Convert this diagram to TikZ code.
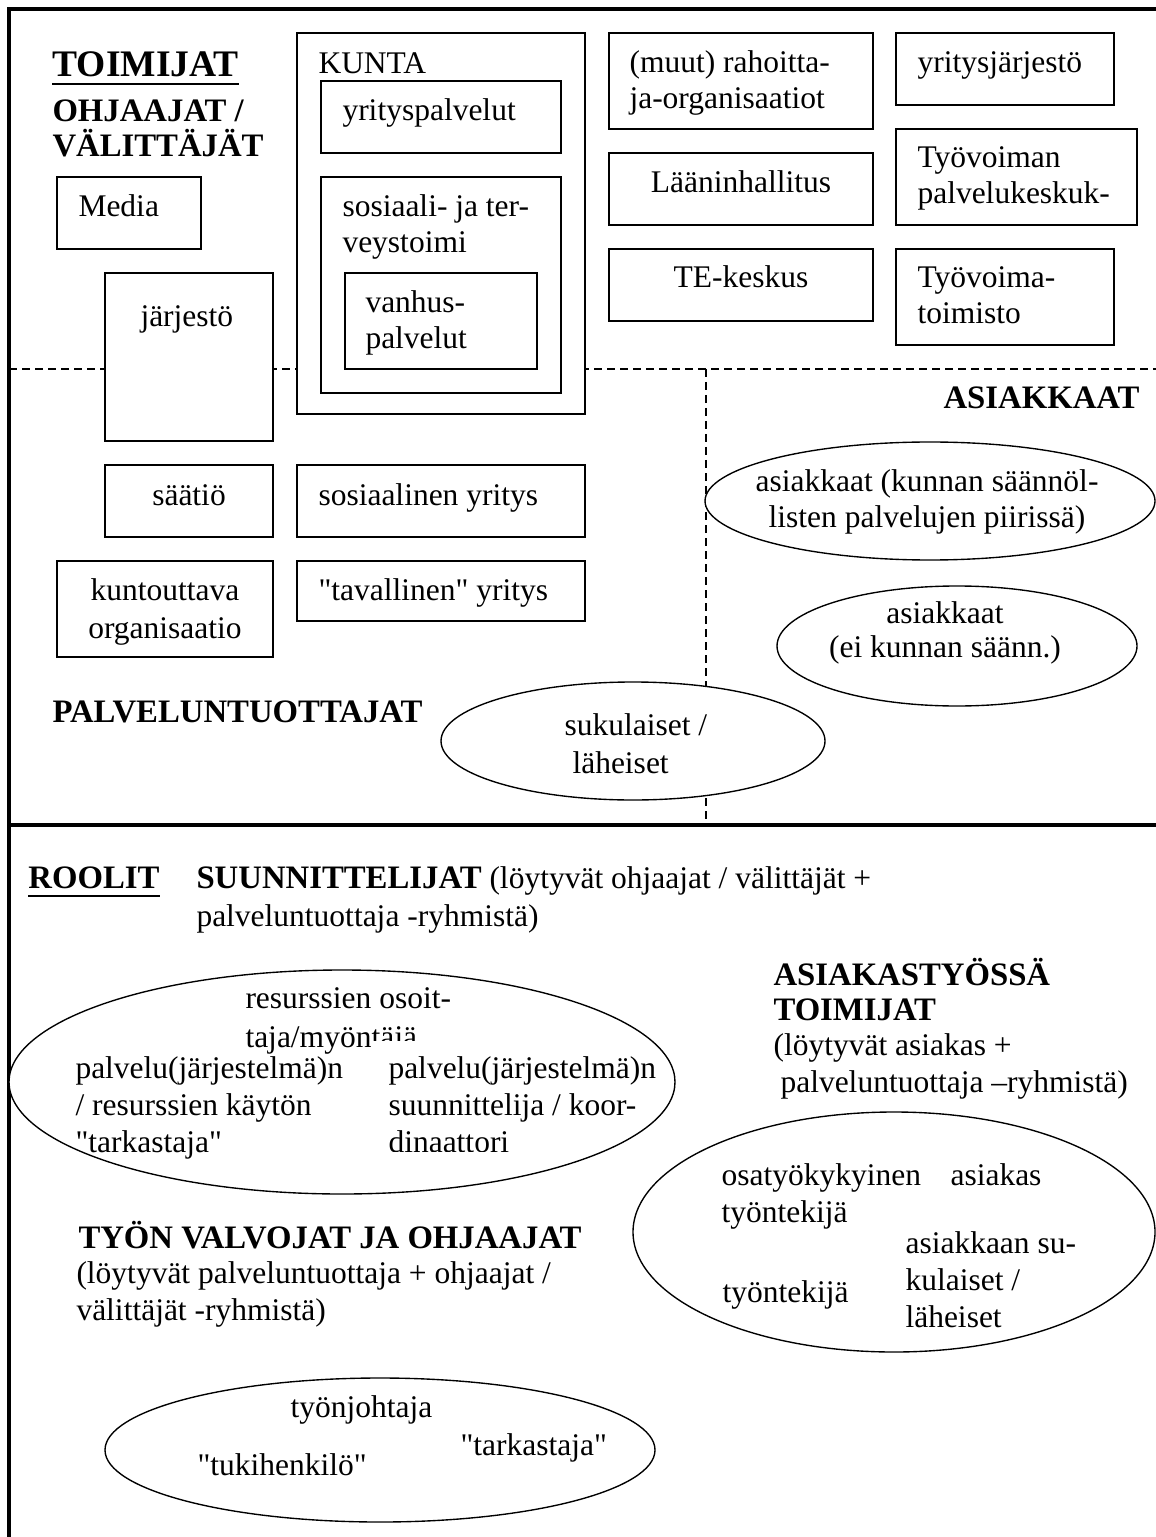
\documentclass[tikz,border=0pt]{standalone}
\usepackage{fontspec}
\setmainfont{Liberation Serif}[Ligatures=TeXOff]
\usetikzlibrary{calc}
\begin{document}
\begin{tikzpicture}[x=0.4pt,y=-0.4pt,
  frame/.style={line width=1.4pt},
  divider/.style={line width=0.6pt, dash pattern=on 3.2pt off 2pt},
  box/.style={draw, fill=white, line width=0.55pt},
  oval/.style={draw, fill=white, line width=0.55pt},
  txt/.style={inner sep=0pt, anchor=base west, align=left, font=\fontsize{12.6}{#1}\selectfont},
  txt/.default=14.4pt,
  ctxt/.style={txt=#1, anchor=base, align=center},
  ctxt/.default=14.4pt,
  head/.style={inner sep=0pt, anchor=base west, align=left, font=\bfseries\fontsize{13.1}{#1}\selectfont},
  head/.default=14pt,
  uline/.style={line width=1.1pt}
  ]
\useasboundingbox (0,0) rectangle (1155,1537);

% frame and section dividers
\draw[divider] (9,369) -- (1160,369);
\draw[divider] (706,369) -- (706,825);
\draw[frame] (9,1540) -- (9,9) -- (1160,9);
\draw[frame] (9,825) -- (1160,825);

% organisations
\draw[box] (297,33) rectangle (585,414);
\draw[box] (321,81) rectangle (561,153);
\draw[box] (321,177) rectangle (561,393);
\draw[box] (345,273) rectangle (537,369);
\draw[box] (57,177) rectangle (201,249);
\draw[box] (105,273) rectangle (273,441);
\draw[box] (609,33) rectangle (873,129);
\draw[box] (896,33) rectangle (1114,105);
\draw[box] (609,153) rectangle (873,225);
\draw[box] (896,129) rectangle (1137,225);
\draw[box] (609,249) rectangle (873,321);
\draw[box] (896,249) rectangle (1114,345);
\draw[box] (105,465) rectangle (273,537);
\draw[box] (297,465) rectangle (585,537);
\draw[box] (57,561) rectangle (273,657);
\draw[box] (297,561) rectangle (585,621);

% groups of people
\draw[oval] (633,741) ellipse [x radius=192, y radius=59];
\draw[oval] (930,501) ellipse [x radius=225, y radius=59];
\draw[oval] (957,646) ellipse [x radius=180, y radius=60];
\draw[oval] (342,1082) ellipse [x radius=333, y radius=112];
\draw[oval] (894,1232) ellipse [x radius=261, y radius=120];
\draw[oval] (380,1450) ellipse [x radius=275, y radius=72];

% upper part: actors (multi-line nodes sit on their last baseline)
\node[head, font=\bfseries\fontsize{15}{17}\selectfont] (toimijat) at (52,77) {TOIMIJAT};
\draw[uline] ($(toimijat.base west)+(0,7)$) -- ($(toimijat.base east)+(0,7)$);
\node[head] (ohjaajat) at (52,157) {OHJAAJAT /\\VÄLITTÄJÄT};
\node[txt] (media) at (78,217) {Media};
\node[txt] (jarjesto) at (140,327) {järjestö};
\node[txt] (kunta) at (318,74) {KUNTA};
\node[txt] (yrpalv) at (342,121) {yrityspalvelut};
\node[txt] (sostt) at (342,253) {sosiaali- ja ter-\\veystoimi};
\node[txt] (vanhus) at (365,349) {vanhus-\\palvelut};
\node[txt] (rahoit) at (629,109) {(muut) rahoitta-\\ja-organisaatiot};
\node[txt] (yrjarj) at (917,73) {yritysjärjestö};
\node[ctxt] (laani) at (741,193) {Lääninhallitus};
\node[txt] (tpk) at (917,204) {Työvoiman\\palvelukeskuk-};
\node[ctxt] (tekesk) at (741,288) {TE-keskus};
\node[txt] (tvtoim) at (917,324) {Työvoima-\\toimisto};
\node[head, anchor=base east] (asiakkaat) at (1140,409) {ASIAKKAAT};
\node[ctxt] (saatio) at (189,506) {säätiö};
\node[txt] (sosyr) at (318,506) {sosiaalinen yritys};
\node[ctxt=15.2pt] (kuntout) at (165,638) {kuntouttava\\organisaatio};
\node[txt] (tavyr) at (318,600) {"tavallinen" yritys};
\node[head] (paltuo) at (52,722) {PALVELUNTUOTTAJAT};
\node[txt] (suku1) at (564,735) {sukulaiset /};
\node[txt] (suku2) at (572,773) {läheiset};
\node[ctxt=14pt] (asiak1) at (927,527) {asiakkaat (kunnan säännöl-\\listen palvelujen piirissä)};
\node[ctxt=13.6pt] (asiak2) at (945,657) {asiakkaat\\(ei kunnan säänn.)};

% lower part: roles
\node[head] (roolit) at (28,888) {ROOLIT};
\draw[uline] ($(roolit.base west)+(0,8)$) -- ($(roolit.base east)+(0,8)$);
\node[txt=15.2pt] (suunn) at (196,926) {{\bfseries\fontsize{13.1}{15.2}\selectfont SUUNNITTELIJAT} (löytyvät ohjaajat / välittäjät +\\palveluntuottaja -ryhmistä)};
\node[txt] (res1) at (245,1008) {resurssien osoit-};
\begin{scope}
  % the end of the word is cut off by the column below
  \clip (200,990) -- (520,990) -- (520,1040) -- (371,1040) -- (371,1065) -- (200,1065) -- cycle;
  \node[txt] (res2) at (245,1047) {taja/myöntäjä};
\end{scope}
\node[txt=14.8pt] (palv1) at (75,1152) {palvelu(järjestelmä)n\\/ resurssien käytön\\"tarkastaja"};
\begin{scope}
  \clip (380,1040) rectangle (700,1151);
  \node[txt=14.8pt] (palv2) at (388,1152) {palvelu(järjestelmä)n\\suunnittelija / koor-\\dinaattori};
\end{scope}
\node[head] (asty) at (773,1020) {ASIAKASTYÖSSÄ\\TOIMIJAT};
\node[txt=14.8pt] (astyl) at (773,1092) {(löytyvät asiakas +\\\hspace*{2.8pt}palveluntuottaja –ryhmistä)};
\node[txt=14.8pt] (osaty) at (721,1222) {osatyökykyinen\\työntekijä};
\node[txt] (asiakas) at (950,1185) {asiakas};
\node[txt=14.8pt] (asksu) at (905,1327) {asiakkaan su-\\kulaiset /\\läheiset};
\node[txt] (tyontek) at (722,1302) {työntekijä};
\node[head] (tyon) at (78,1248) {TYÖN VALVOJAT JA OHJAAJAT};
\node[txt=14.8pt] (tyonl) at (76,1320) {(löytyvät palveluntuottaja + ohjaajat /\\välittäjät -ryhmistä)};
\node[txt] (tjoht) at (290,1417) {työnjohtaja};
\node[txt] (tark) at (460,1455) {"tarkastaja"};
\node[txt] (tuki) at (197,1475) {"tukihenkilö"};
\end{tikzpicture}
\end{document}
